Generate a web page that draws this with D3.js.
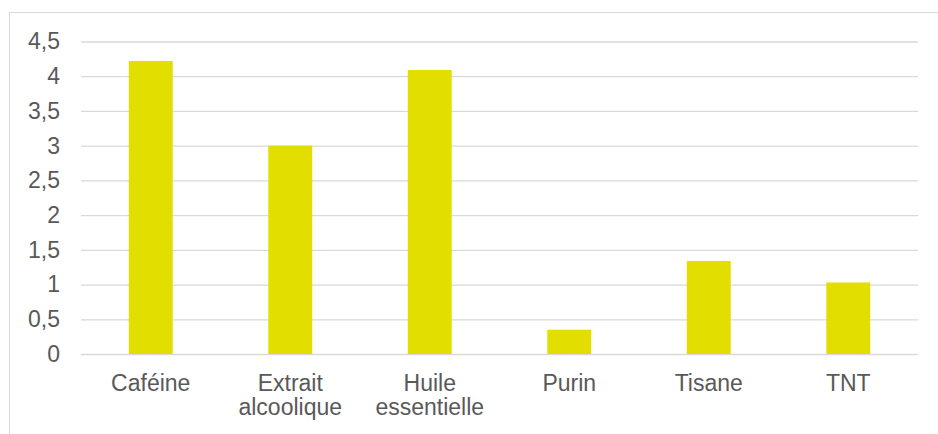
<!DOCTYPE html>
<html>
<head>
<meta charset="utf-8">
<script src="https://cdn.jsdelivr.net/npm/d3@7"></script>
<style>
  body { margin: 0; background: #fff; }
  svg text { font-family: "Liberation Sans", Arial, sans-serif; fill: #595959; }
</style>
</head>
<body>
<div id="chart"></div>
<script>
  var categories = ['Caféine', 'Extrait alcoolique', 'Huile essentielle', 'Purin', 'Tisane', 'TNT'];
  var values = [4.22, 3.0, 4.09, 0.35, 1.34, 1.03];
  var yTicks = [0, 0.5, 1, 1.5, 2, 2.5, 3, 3.5, 4, 4.5];

  var width = 938;
  var height = 434;
  var margin = { top: 41.5, right: 20, bottom: 80, left: 81 };

  var svg = d3.select('#chart').append('svg')
      .attr('width', width)
      .attr('height', height);

  // chart frame, cut off on the right and bottom like the original
  svg.append('rect')
      .attr('x', 9.5)
      .attr('y', 12.5)
      .attr('width', width + 10)
      .attr('height', height + 10)
      .attr('fill', 'none')
      .attr('stroke', '#d9d9d9')
      .attr('stroke-width', 1);

  var x = d3.scaleBand()
      .domain(categories)
      .range([margin.left, width - margin.right])
      .paddingInner(0.685)
      .paddingOuter(0.3425);

  var y = d3.scaleLinear()
      .domain([0, 4.5])
      .range([354, margin.top]);

  var yAxis = d3.axisLeft(y)
      .tickValues(yTicks)
      .tickSize(-(width - margin.right - margin.left))
      .tickPadding(21)
      .tickFormat(function (d) { return String(d).replace('.', ','); });

  var gy = svg.append('g')
      .attr('transform', 'translate(' + margin.left + ',0)')
      .call(yAxis);
  gy.select('.domain').remove();
  gy.selectAll('.tick line').attr('stroke', '#d9d9d9').attr('stroke-width', 1.3);
  gy.selectAll('.tick text')
      .attr('font-size', 23)
      .attr('fill', '#595959')
      .style('font-family', '"Liberation Sans", Arial, sans-serif');

  svg.selectAll('rect.bar')
      .data(values)
      .enter().append('rect')
      .attr('class', 'bar')
      .attr('x', function (d, i) { return x(categories[i]); })
      .attr('y', function (d) { return y(d); })
      .attr('width', x.bandwidth())
      .attr('height', function (d) { return y(0) - y(d); })
      .attr('fill', '#e2df00');

  var labels = svg.selectAll('text.label')
      .data(categories)
      .enter().append('text')
      .attr('class', 'label')
      .attr('x', function (d) { return x(d) + x.bandwidth() / 2; })
      .attr('y', 391)
      .attr('text-anchor', 'middle')
      .attr('font-size', 23);

  labels.each(function (d) {
    var words = d.split(' ');
    var el = d3.select(this);
    words.forEach(function (w, i) {
      el.append('tspan')
          .attr('x', x(d) + x.bandwidth() / 2)
          .attr('dy', i === 0 ? 0 : 23.5)
          .text(w);
    });
  });
</script>
</body>
</html>
